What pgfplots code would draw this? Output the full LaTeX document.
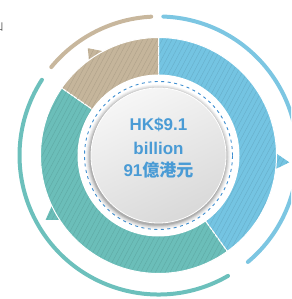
\documentclass[border=0pt]{standalone}
\usepackage{pgfplots}
\pgfplotsset{compat=1.18}
\usepackage{pgfplotstable}
\usepackage{fontspec}
\setmainfont{Liberation Sans}
\newfontfamily\cjk{Noto Sans CJK TC}
\usetikzlibrary{calc,patterns.meta}

\definecolor{cblue}{HTML}{74C4E2}
\definecolor{cteal}{HTML}{6BBEB9}
\definecolor{ctan}{HTML}{C5B59B}
\definecolor{ablue}{HTML}{7CC6E2}
\definecolor{ateal}{HTML}{6CC0BC}
\definecolor{atan}{HTML}{C8B79D}
\definecolor{txtblue}{HTML}{4A9BD5}
\definecolor{dashblue}{HTML}{3F8ED0}

\pgfplotstableread{
share
40.1
44.6
15.3
}\donut

\newcommand\wedgeseg[3]{%
  \fill[#3, draw=white, line width=1pt] (C) -- ++(#1:118pt) arc[start angle=#1, end angle=#2, radius=118pt] -- cycle;
  \path[pattern={Lines[angle=62,distance=4.3pt,line width=0.45pt]}, pattern color=#3!90!black] (C) -- ++(#1:117pt) arc[start angle=#1, end angle=#2, radius=117pt] -- cycle;
}
\newcommand\tri[7]{%
  \fill[#7] ($(C)+(#1:#2pt)$) -- ($(C)+(#3:#4pt)$) -- ($(C)+(#5:#6pt)$) -- cycle;
  \path[pattern={Lines[angle=62,distance=4.3pt,line width=0.45pt]}, pattern color=#7!90!black] ($(C)+(#1:#2pt)$) -- ($(C)+(#3:#4pt)$) -- ($(C)+(#5:#6pt)$) -- cycle;
}

\begin{document}
\begin{tikzpicture}
\pgfplotstablegetelem{0}{share}\of\donut \let\va\pgfplotsretval
\pgfplotstablegetelem{1}{share}\of\donut \let\vb\pgfplotsretval
\pgfplotstablegetelem{2}{share}\of\donut \let\vc\pgfplotsretval
\pgfmathsetmacro\tot{\va+\vb+\vc}
\pgfmathsetmacro\aA{90}
\pgfmathsetmacro\aB{90-360*\va/\tot}
\pgfmathsetmacro\aC{\aB-360*\vb/\tot}
\pgfmathsetmacro\aD{\aC-360*\vc/\tot}
\begin{axis}[x=1pt, y=1pt, xmin=0, xmax=291, ymin=0, ymax=299, hide axis, clip=true]
\coordinate (C) at (axis cs:158.5,143.5);
% outer arcs
\draw[ablue, line width=4pt, line cap=round] (C) ++(88:139pt) arc[start angle=88, end angle=-50, radius=139pt];
\draw[ateal, line width=4pt, line cap=round] (C) ++(-60:139pt) arc[start angle=-60, end angle=-213, radius=139pt];
\draw[atan, line width=4pt, line cap=round] (C) ++(140.5:139pt) arc[start angle=140.5, end angle=93, radius=139pt];
% arrow bumps
\tri{2}{115}{-3}{131}{-7.5}{115}{cblue}
\tri{204}{115}{209.7}{130}{214}{115}{cteal}
\tri{127}{115}{123.4}{128.5}{116}{115}{ctan}
% wedges
\wedgeseg{\aA}{\aB}{cblue}
\wedgeseg{\aB}{\aC}{cteal}
\wedgeseg{\aC}{\aD}{ctan}
% centre
\fill[white] (C) circle[radius=81pt];
\draw[dashblue, line width=0.9pt, dash pattern=on 3pt off 3.5pt] (C) circle[radius=74pt];
\fill[black, opacity=0.04] ($(C)+(-0.5pt,-1.5pt)$) circle[radius=72.5pt];
\fill[black, opacity=0.05] ($(C)+(-0.5pt,-1.5pt)$) circle[radius=71.5pt];
\fill[black, opacity=0.07] ($(C)+(-0.5pt,-1.5pt)$) circle[radius=70.5pt];
\fill[black, opacity=0.09] ($(C)+(-0.5pt,-1.5pt)$) circle[radius=69.5pt];
\fill[black, opacity=0.11] ($(C)+(-0.5pt,-1.5pt)$) circle[radius=68.5pt];
\shade[top color=gray!7, bottom color=gray!30, shading angle=25] (C) circle[radius=67.5pt];
\draw[white, line width=0.8pt] (C) circle[radius=67.5pt];
% text
\node[anchor=base, text=txtblue, font=\bfseries\fontsize{17}{17}\selectfont, inner sep=0] at (axis cs:158.5,168) {HK\$9.1};
\node[anchor=base, text=txtblue, font=\bfseries\fontsize{17}{17}\selectfont, inner sep=0] at (axis cs:158.5,144.5) {billion};
\node[anchor=base, text=txtblue, font=\bfseries\fontsize{17}{17}\selectfont, inner sep=0] at (axis cs:158.5,122) {91{\cjk\bfseries 億港元}};
% clipped glyph at top-left (cut off in the reference too)
\node[anchor=south east, inner sep=0, text=black!70, font=\cjk\fontsize{10}{10}\selectfont] at (axis cs:3.5,267.5) {凵};
\end{axis}
\pgfresetboundingbox
\path (0,0) rectangle (291pt,299pt);
\end{tikzpicture}
\end{document}
